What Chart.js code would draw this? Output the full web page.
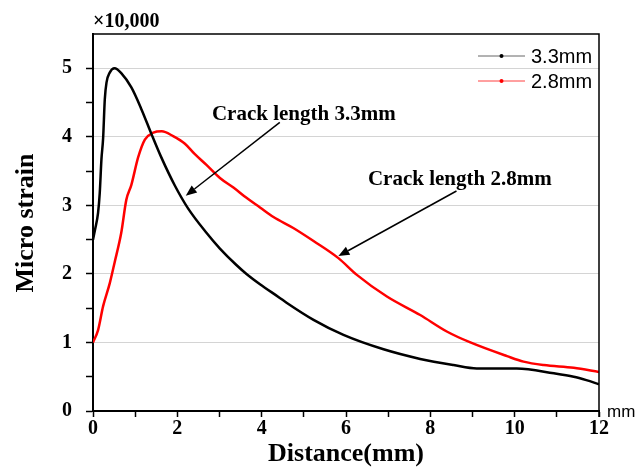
<!DOCTYPE html>
<html><head><meta charset="utf-8">
<script src="https://cdn.jsdelivr.net/npm/chart.js@4/dist/chart.umd.min.js"></script>
<style>html,body{margin:0;padding:0;background:#fff}#wrap{width:636px;height:471px}</style>
</head><body><div id="wrap"><canvas id="c" width="636" height="471"></canvas></div>
<script>
// ---- data ----
const seriesNames = ['3.3mm', '2.8mm'];
const dist33 = [0, 0.05, 0.12, 0.16, 0.20, 0.24, 0.28, 0.32, 0.40, 0.51, 0.67, 0.91, 1.15, 1.38, 1.62, 1.94, 2.25, 2.69, 3.01, 3.40, 3.64, 3.96, 4.43, 4.59, 5.23, 5.94, 6.89, 7.76, 8.55, 9.10, 10.05, 10.93, 11.40, 11.70, 12.0];
const strain33 = [2.50, 2.65, 2.89, 3.18, 3.67, 3.98, 4.55, 4.79, 4.94, 5.00, 4.93, 4.72, 4.40, 4.05, 3.70, 3.29, 2.96, 2.60, 2.37, 2.13, 2.00, 1.85, 1.65, 1.58, 1.33, 1.11, 0.90, 0.76, 0.67, 0.62, 0.62, 0.55, 0.50, 0.45, 0.39];
const dist28 = [0, 0.12, 0.24, 0.40, 0.51, 0.67, 0.79, 0.91, 1.07, 1.23, 1.43, 1.63, 1.90, 2.18, 2.41, 2.69, 3.01, 3.33, 3.64, 3.96, 4.28, 4.75, 5.23, 5.82, 6.25, 6.97, 7.76, 8.39, 8.95, 9.82, 10.21, 10.69, 11.40, 12.0];
const strain28 = [1.00, 1.18, 1.53, 1.87, 2.16, 2.60, 3.08, 3.30, 3.70, 3.96, 4.06, 4.08, 4.01, 3.90, 3.75, 3.59, 3.40, 3.26, 3.11, 2.97, 2.83, 2.67, 2.48, 2.23, 1.99, 1.67, 1.40, 1.16, 1.00, 0.80, 0.72, 0.67, 0.63, 0.57];
const xTickLabels = [0, 2, 4, 6, 8, 10, 12];
const yTickLabels = [0, 1, 2, 3, 4, 5];
const annoTexts = ['Crack length 3.3mm', 'Crack length 2.8mm'];
const annoTextAt = [[2.82, 4.24], [6.52, 3.30]];       // data units (left, baseline)
const arrowFrom = [[4.43, 4.21], [8.62, 3.21]];         // data units
const arrowTo = [[2.20, 3.14], [5.82, 2.26]];           // data units

const toPts = (xs, ys) => xs.map((x, i) => ({x: x, y: ys[i]}));
const colors = ['#000000', '#ff0000'];
const serif = "'Liberation Serif', 'Times New Roman', serif";
const sans = "'Liberation Sans', Arial, sans-serif";

const extras = {
  id: 'extras',
  afterDraw(chart) {
    const ctx = chart.ctx, ca = chart.chartArea;
    const xs = chart.scales.x, ys = chart.scales.y;
    ctx.save();
    // top/right frame
    ctx.strokeStyle = '#000'; ctx.lineWidth = 1.5;
    ctx.beginPath();
    ctx.moveTo(ca.left, ca.top); ctx.lineTo(ca.right, ca.top); ctx.lineTo(ca.right, ca.bottom + 6);
    ctx.stroke();
    // annotations
    ctx.fillStyle = '#000';
    ctx.font = 'bold 21px ' + serif;
    ctx.textAlign = 'left'; ctx.textBaseline = 'alphabetic';
    annoTexts.forEach((t, i) => {
      ctx.fillText(t, xs.getPixelForValue(annoTextAt[i][0]), ys.getPixelForValue(annoTextAt[i][1]));
      const x0 = xs.getPixelForValue(arrowFrom[i][0]), y0 = ys.getPixelForValue(arrowFrom[i][1]);
      const x1 = xs.getPixelForValue(arrowTo[i][0]), y1 = ys.getPixelForValue(arrowTo[i][1]);
      const ang = Math.atan2(y1 - y0, x1 - x0), L = 11, W = 4.5;
      const bx = x1 - L * Math.cos(ang), by = y1 - L * Math.sin(ang);
      ctx.lineWidth = 1.5; ctx.strokeStyle = '#000';
      ctx.beginPath(); ctx.moveTo(x0, y0); ctx.lineTo(bx, by); ctx.stroke();
      ctx.beginPath();
      ctx.moveTo(x1, y1);
      ctx.lineTo(bx + W * Math.sin(ang), by - W * Math.cos(ang));
      ctx.lineTo(bx - W * Math.sin(ang), by + W * Math.cos(ang));
      ctx.closePath(); ctx.fill();
    });
    // legend
    ctx.font = '20px ' + sans; ctx.textBaseline = 'middle';
    seriesNames.forEach((n, i) => {
      const y = 56 + i * 25;
      ctx.strokeStyle = i === 0 ? '#666' : '#ff4040'; ctx.lineWidth = 1;
      ctx.beginPath(); ctx.moveTo(478, y); ctx.lineTo(525, y); ctx.stroke();
      ctx.fillStyle = colors[i];
      ctx.beginPath(); ctx.arc(501.5, y, 2, 0, Math.PI * 2); ctx.fill();
      ctx.fillStyle = '#000';
      ctx.fillText(n, 531, y + 1);
    });
    // axis titles and unit labels
    ctx.fillStyle = '#000';
    ctx.font = 'bold 26px ' + serif; ctx.textAlign = 'center'; ctx.textBaseline = 'alphabetic';
    ctx.fillText('Distance(mm)', (ca.left + ca.right) / 2, 461);
    ctx.save(); ctx.translate(33, 223); ctx.rotate(-Math.PI / 2);
    ctx.fillText('Micro strain', 0, 0); ctx.restore();
    ctx.font = 'bold 20px ' + serif; ctx.textAlign = 'left';
    ctx.fillText('\u00d710,000', 93, 27);
    ctx.font = '17px ' + sans;
    ctx.fillText('mm', 607, 417);
    ctx.restore();
  }
};

new Chart(document.getElementById('c'), {
  type: 'line',
  data: {
    datasets: [
      {label: seriesNames[0], data: toPts(dist33, strain33), borderColor: colors[0], borderWidth: 2.5, pointRadius: 0, cubicInterpolationMode: 'monotone', fill: false},
      {label: seriesNames[1], data: toPts(dist28, strain28), borderColor: colors[1], borderWidth: 2.5, pointRadius: 0, cubicInterpolationMode: 'monotone', fill: false}
    ]
  },
  options: {
    responsive: false, animation: false,
    layout: {padding: {top: 34, right: 37, left: 0, bottom: 0}},
    plugins: {legend: {display: false}, tooltip: {enabled: false}},
    scales: {
      x: {
        type: 'linear', min: 0, max: 12,
        afterFit: s => { s.height = 60; },
        ticks: {stepSize: 1, autoSkip: false, maxRotation: 0, padding: 0, color: '#000',
          font: {family: serif, weight: 'bold', size: 20},
          callback: v => xTickLabels.includes(v) ? String(v) : ''},
        grid: {drawOnChartArea: false, tickLength: 6, tickColor: '#000', tickWidth: 1.5},
        border: {color: '#000', width: 2}
      },
      y: {
        type: 'linear', min: 0, max: 5.5,
        afterFit: s => { s.width = 93; },
        afterBuildTicks: s => { s.ticks = s.ticks.filter(t => t.value <= 5); },
        ticks: {stepSize: 0.5, autoSkip: false, padding: 14, color: '#000',
          font: {family: serif, weight: 'bold', size: 20},
          callback: v => yTickLabels.includes(v) ? String(v) : ''},
        grid: {color: c => (c.tick && Number.isInteger(c.tick.value) && c.tick.value > 0) ? '#d4d4d4' : 'rgba(0,0,0,0)',
          lineWidth: 1, tickLength: 7, tickColor: '#000', tickWidth: 1.5},
        border: {color: '#000', width: 2}
      }
    }
  },
  plugins: [extras]
});
</script></body></html>
